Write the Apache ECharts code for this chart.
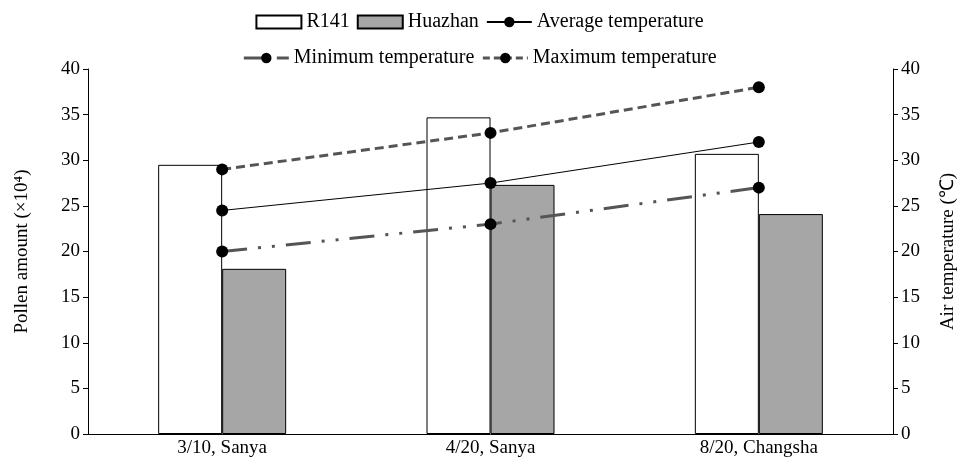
<!DOCTYPE html>
<html>
<head>
<meta charset="utf-8">
<script src="https://cdn.jsdelivr.net/npm/echarts@6/dist/echarts.min.js"></script>
<style>
  html, body { margin: 0; padding: 0; background: #fff; }
  #chart { width: 959px; height: 459px; }
</style>
</head>
<body>
<div id="chart"></div>
<script>
// categories and values
const categories = ['3/10, Sanya', '4/20, Sanya', '8/20, Changsha'];
const r141 = [29.5, 34.7, 30.7];
const huazhan = [18.1, 27.3, 24.1];
const avgTemp = [24.5, 27.5, 32];
const minTemp = [20, 23, 27];
const maxTemp = [29, 33, 38];
const yTicks = [0, 5, 10, 15, 20, 25, 30, 35, 40];

const font = 'Liberation Serif';
const grey = '#555555';
const minDash = [25, 11, 3, 11, 3, 11];
const maxDash = [9, 5];

const chart = echarts.init(document.getElementById('chart'));

function axisY(name, position, nameGap) {
  return {
    type: 'value',
    name: name,
    position: position,
    nameLocation: 'middle',
    nameGap: nameGap,
    nameTextStyle: { fontFamily: font, fontSize: 19, color: '#000' },
    min: yTicks[0],
    max: yTicks[yTicks.length - 1],
    interval: 5,
    axisLine: { show: true, lineStyle: { color: '#000', width: 1 } },
    axisTick: { show: true, length: 5, lineStyle: { color: '#000' } },
    axisLabel: { fontFamily: font, fontSize: 19, color: '#000', margin: 8 },
    splitLine: { show: false }
  };
}

const legendText = { fontFamily: font, fontSize: 20, color: '#000' };

chart.setOption({
  animation: false,
  textStyle: { fontFamily: font },
  legend: [
    {
      data: [
        { name: 'R141', icon: 'rect' },
        { name: 'Huazhan', icon: 'rect' },
        'Average temperature'
      ],
      top: 7,
      left: 'center',
      itemWidth: 45,
      itemHeight: 13,
      itemGap: 7,
      textStyle: legendText
    },
    {
      data: [
        { name: 'Minimum temperature', lineStyle: { width: 3, type: [18, 6, 3, 6] } },
        { name: 'Maximum temperature', lineStyle: { width: 3, type: [7, 4] } }
      ],
      top: 43,
      left: 'center',
      itemWidth: 45,
      itemHeight: 13,
      itemGap: 7,
      textStyle: legendText
    }
  ],
  grid: { left: 88, right: 66, top: 69, bottom: 25, containLabel: false, outerBoundsMode: 'none' },
  xAxis: {
    type: 'category',
    data: categories,
    axisLine: { lineStyle: { color: '#000', width: 1 } },
    axisTick: { show: false },
    axisLabel: { fontFamily: font, fontSize: 19, color: '#000', margin: 5 }
  },
  yAxis: [
    axisY('Pollen amount (×10⁴)', 'left', 56),
    axisY('Air temperature (℃)', 'right', 46)
  ],
  series: [
    {
      name: 'R141',
      type: 'bar',
      data: r141,
      barWidth: 64,
      barGap: '0%',
      itemStyle: { color: '#fff', borderColor: '#000', borderWidth: 1 }
    },
    {
      name: 'Huazhan',
      type: 'bar',
      data: huazhan,
      barWidth: 64,
      barGap: '0%',
      itemStyle: { color: '#a6a6a6', borderColor: '#000', borderWidth: 1 }
    },
    {
      name: 'Average temperature',
      type: 'line',
      yAxisIndex: 1,
      data: avgTemp,
      symbol: 'circle',
      symbolSize: 12,
      itemStyle: { color: '#000' },
      lineStyle: { color: '#000', width: 1 }
    },
    {
      name: 'Minimum temperature',
      type: 'line',
      yAxisIndex: 1,
      data: minTemp,
      symbol: 'circle',
      symbolSize: 12,
      itemStyle: { color: '#000' },
      lineStyle: { color: grey, width: 3, type: minDash }
    },
    {
      name: 'Maximum temperature',
      type: 'line',
      yAxisIndex: 1,
      data: maxTemp,
      symbol: 'circle',
      symbolSize: 12,
      itemStyle: { color: '#000' },
      lineStyle: { color: grey, width: 3, type: maxDash }
    }
  ]
});
</script>
</body>
</html>
